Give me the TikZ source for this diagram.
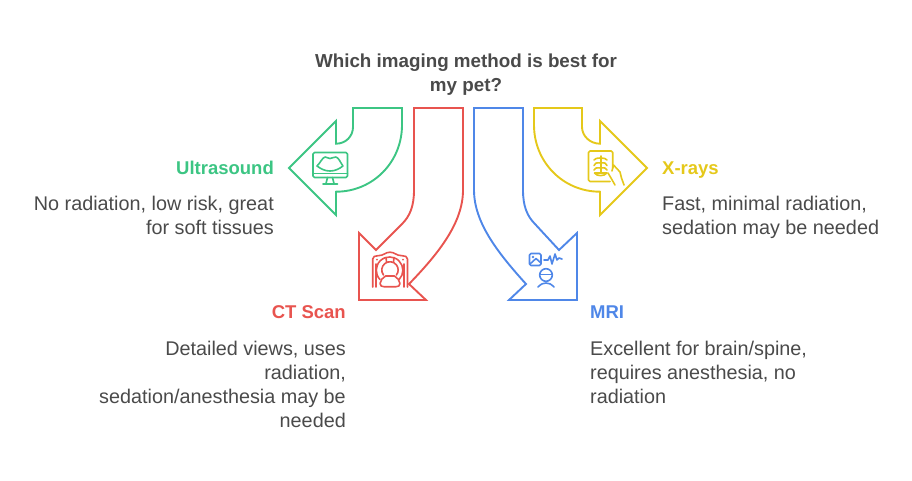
\documentclass[tikz,border=0pt]{standalone}
\usepackage{fontspec}
\setmainfont{Liberation Sans}
\definecolor{grn}{HTML}{3CC583}
\definecolor{rd}{HTML}{E8544F}
\definecolor{blu}{HTML}{4F87E8}
\definecolor{yel}{HTML}{E5C81A}
\definecolor{txt}{HTML}{4A4A4A}
\tikzset{
  arrowshape/.style={line width=1.9pt,line join=miter,fill=none},
  icon/.style={line width=1.6pt,line cap=round,line join=round},
  body/.style={font=\fontsize{19.8}{24.2}\selectfont,text=txt,inner sep=0pt},
  head/.style={font=\fontsize{18.5}{24.5}\selectfont\bfseries,inner sep=0pt},
  titletext/.style={font=\fontsize{18.8}{24.5}\selectfont\bfseries,text=txt,inner sep=0pt}
}
\begin{document}
\begin{tikzpicture}[x=1pt,y=-1pt]
\useasboundingbox (0,0) rectangle (912,480);
% arrows
\draw[arrowshape,grn] (353,108) -- (402,108) -- (402,125)
  .. controls (402,162) and (373,191.7) .. (336,191.7) -- (336,215) -- (289,168) -- (336,121) -- (336,143.7)
  .. controls (346,143.7) and (353,136) .. (353,127) -- cycle;
\draw[arrowshape,rd] (414,108) -- (463,108) -- (463,190)
  .. controls (463,222) and (440,252) .. (409,284) -- (426,300) -- (359,300) -- (359,233) -- (376,250)
  -- (402,224) .. controls (410,216) and (414,206) .. (414,190) -- cycle;
\draw[arrowshape,blu] (523,108) -- (474,108) -- (474,190)
  .. controls (474,222) and (497,252) .. (526,284) -- (509,300) -- (577,300) -- (577,233) -- (559,250)
  -- (535,224) .. controls (527,216) and (523,206) .. (523,190) -- cycle;
\draw[arrowshape,yel] (582,108) -- (534,108) -- (534,125)
  .. controls (534,162) and (563,191.7) .. (600,191.7) -- (600,215) -- (647,168) -- (600,121) -- (600,143.7)
  .. controls (590,143.7) and (582,136) .. (582,127) -- cycle;
% ultrasound icon
\begin{scope}[icon,grn]
\draw[rounded corners=1.5pt] (313,152.5) rectangle (347.5,177.5);
\draw (313,173.5) -- (347.5,173.5);
\draw (327.5,177.5) -- (326,183.5) (332.5,177.5) -- (334,183.5) (323,184) -- (337.5,184);
\draw (317,166) .. controls (321,162) and (322,158) .. (325,157) .. controls (328,157) and (328,158.5) .. (330,158.5) .. controls (332,158.5) and (333,157) .. (336,157) .. controls (339,158) and (340,162) .. (343,166) .. controls (339,169) and (335,171) .. (330,171) .. controls (325,171) and (321,169) .. (317,166) -- cycle;
\end{scope}
% CT icon
\begin{scope}[icon,rd]
\draw (372.7,287) -- (372.7,259) .. controls (372.7,256.5) and (375,255.7) .. (378,255.7) .. controls (384,255.7) and (385,252.2) .. (390,252.2) .. controls (395,252.2) and (396,255.7) .. (402,255.7) .. controls (405,255.7) and (407.5,256.5) .. (407.5,259) -- (407.5,287);
\draw (376,287) -- (376,264);
\draw (404,287) -- (404,264);
\draw (380,279.5) arc[start angle=136,end angle=404,radius=13.3] ;
\draw (383.5,275) arc[start angle=142,end angle=398,radius=8.2];
\draw (386,257.5) -- (386.5,262) (394,257.5) -- (393.5,262);
\draw (385.5,276) -- (394.5,276) .. controls (397,278) and (400,280) .. (400,283.5) .. controls (400,286) and (398,286.7) .. (396,286.7) -- (384,286.7) .. controls (382,286.7) and (380,286) .. (380,283.5) .. controls (380,280) and (383,278) .. (385.5,276) -- cycle;
\fill (377,259.5) circle (1pt) (403,259.5) circle (1pt);
\end{scope}
% MRI icon
\begin{scope}[icon,blu]
\draw[rounded corners=1.5pt] (529.5,253.5) rectangle (541,265.5);
\fill (533,257) circle (1.3pt);
\draw (530,264) -- (536,258.5) -- (541,263);
\draw (544,260) -- (548,260) -- (550,256) -- (552,264) -- (555,254) -- (557,260) -- (559,258) -- (562,259);
\draw (546,275) circle (6.3);
\draw (540,274.5) -- (552,274.5);
\draw (538,287) .. controls (541,284) and (543,283) .. (546,283) .. controls (549,283) and (551,284) .. (554,287);
\end{scope}
% X-ray icon
\begin{scope}[icon,yel]
\draw[rounded corners=1.5pt] (612.7,168) -- (612.7,151) -- (588.5,151) -- (588.5,181.5) -- (610,181.5);
\draw (600.7,156) -- (600.7,172);
\draw (600.7,158) .. controls (597,158) and (595,158.5) .. (594,160);
\draw (600.7,158) .. controls (604,158) and (606,158.5) .. (607,160);
\draw (600.7,163) .. controls (597,162.5) and (594,163) .. (594,165.5);
\draw (600.7,163) .. controls (604,162.5) and (607,163) .. (607,165.5);
\draw (600.7,168) .. controls (597,167.5) and (594,168) .. (594,170);
\draw (600.7,168) .. controls (604,167.5) and (607,168) .. (607,170);
\draw (594.5,173) .. controls (597,176.5) and (604,176.5) .. (607,173) -- cycle;
\draw (608,173) -- (611,178) -- (615,185);
\draw (612,171) -- (613.5,165) -- (620,172) -- (621.5,178) -- (624,185);
\end{scope}
% texts
\node[titletext,align=center] (title) at (466,74.5) {Which imaging method is best for\\my pet?};
\node[head,text=grn,anchor=base east] (us) at (274,174.5) {Ultrasound};
\node[body,align=right,anchor=north east] (usd) at (274,195.5) {No radiation, low risk, great\\for soft tissues};
\node[head,text=rd,anchor=base east] (ct) at (346,318.5) {CT Scan};
\node[body,align=right,anchor=north east] (ctd) at (346,340.5) {Detailed views, uses\\radiation,\\sedation/anesthesia may be\\needed};
\node[head,text=blu,anchor=base west] (mri) at (590,318.5) {MRI};
\node[body,align=left,anchor=north west] (mrid) at (590,340.5) {Excellent for brain/spine,\\requires anesthesia, no\\radiation};
\node[head,text=yel,anchor=base west] (xr) at (662,174.5) {X-rays};
\node[body,align=left,anchor=north west] (xrd) at (662,195.5) {Fast, minimal radiation,\\sedation may be needed};
\end{tikzpicture}
\end{document}
